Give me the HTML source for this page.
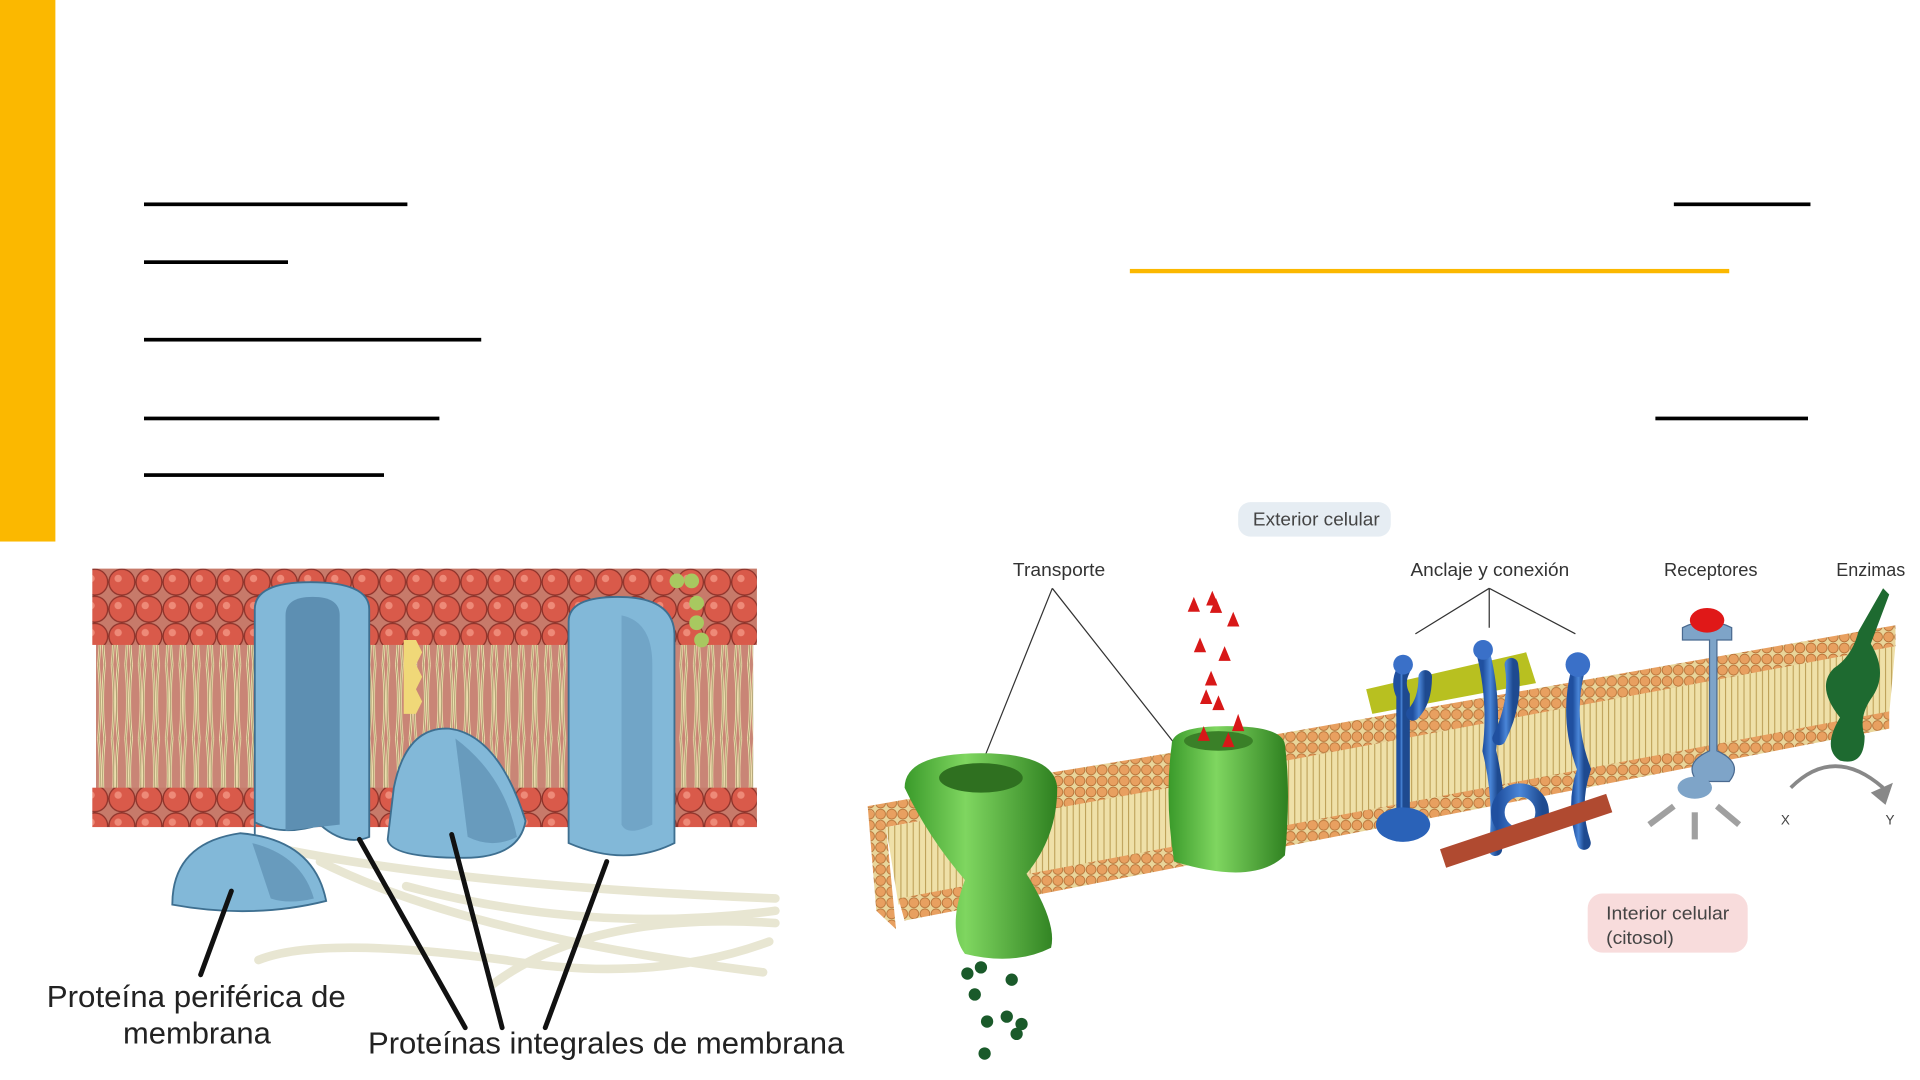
<!DOCTYPE html>
<html><head><meta charset="utf-8"><style>
html,body{margin:0;padding:0;background:#fff;width:1920px;height:1080px;overflow:hidden}
svg{display:block}
text{font-family:"Liberation Sans",sans-serif}
</style></head><body>
<svg width="1920" height="1080" viewBox="0 0 1560 877.5" xmlns="http://www.w3.org/2000/svg">
<defs>
<pattern id="heads" width="22" height="22" patternUnits="userSpaceOnUse">
<rect width="22" height="22" fill="#c77a6a"/>
<circle cx="11" cy="11" r="10.5" fill="#d95a4a" stroke="#8a3028" stroke-width="1"/>
<circle cx="8" cy="8" r="3" fill="#ee8a78"/>
</pattern>
<pattern id="tails" width="11" height="60" patternUnits="userSpaceOnUse">
<rect width="11" height="60" fill="#c98576"/>
<path d="M3 0 q3 30 0 60 M8 0 q-3 30 0 60" stroke="#efe3b0" stroke-width="2" fill="none"/>
<path d="M3 0 q3 30 0 60 M8 0 q-3 30 0 60" stroke="#8a7a50" stroke-width="0.5" fill="none"/>
</pattern>
<pattern id="oheads" width="9" height="9" patternUnits="userSpaceOnUse">
<rect width="9" height="9" fill="#e9d59a"/>
<circle cx="4.5" cy="4.5" r="4" fill="#e8a060" stroke="#b06a30" stroke-width="0.6"/>
</pattern>
<pattern id="otails" width="5" height="20" patternUnits="userSpaceOnUse">
<rect width="5" height="20" fill="#efe0a8"/>
<line x1="2" y1="0" x2="2" y2="20" stroke="#b89a50" stroke-width="0.8"/>
</pattern>
<linearGradient id="g1" x1="0" x2="1"><stop offset="0" stop-color="#3a9a2a"/><stop offset=".4" stop-color="#7fd660"/><stop offset="1" stop-color="#2e8020"/></linearGradient>
<linearGradient id="b1" x1="0" x2="1"><stop offset="0" stop-color="#2050a0"/><stop offset=".5" stop-color="#4a86d8"/><stop offset="1" stop-color="#1e4a90"/></linearGradient>
</defs>

<rect x="0" y="0" width="45" height="440" fill="#fbb800"/>
<g fill="#000">
<rect x="117" y="164.5" width="214" height="3"/>
<rect x="1360" y="164.5" width="111" height="3"/>
<rect x="117" y="211.5" width="117" height="3"/>
<rect x="117" y="274.5" width="274" height="3"/>
<rect x="117" y="338.5" width="240" height="3"/>
<rect x="1345" y="338.5" width="124" height="3"/>
<rect x="117" y="384.5" width="195" height="3"/>
</g>
<rect x="918" y="218.5" width="487" height="3.5" fill="#fbb800"/>

<!-- LEFT DIAGRAM -->
<g>
<path d="M230 690 q150 30 400 40 M260 700 q120 60 360 90 M210 780 q50-20 200 0 q120 20 215 -15 M330 720 q150 40 300 20 M400 800 q80-60 230-50" stroke="#e8e6d2" stroke-width="7" fill="none" stroke-linecap="round"/>
<rect x="78" y="520" width="534" height="125" fill="url(#tails)"/>
<rect x="75" y="462" width="540" height="62" fill="url(#heads)"/>
<rect x="75" y="640" width="540" height="32" fill="url(#heads)"/>
<path d="M328 520 l10 0 l5 10 l-5 10 l5 10 l-5 10 l5 10 l-5 10 h-10z" fill="#f0d878"/>
<circle cx="550" cy="472" r="6" fill="#a8c860"/><circle cx="562" cy="472" r="6" fill="#a8c860"/><circle cx="566" cy="490" r="6" fill="#a8c860"/><circle cx="566" cy="506" r="6" fill="#a8c860"/><circle cx="570" cy="520" r="6" fill="#a8c860"/>
<path d="M207 678 V495 q0-22 45-22 q48 0 48 22 V680 q-20 8 -40-10 q-30 10 -53-2z" fill="#82b8d8" stroke="#3e6f90" stroke-width="1.5"/>
<path d="M232 675 V500 q0-15 22-15 q22 0 22 15 V670z" fill="#5d8fb2"/>
<path d="M462 505 q0-20 40-20 q45 0 46 30 V685 q-40 20 -86 0z" fill="#82b8d8" stroke="#3e6f90" stroke-width="1.5"/>
<path d="M505 500 q25 5 25 40 V670 q-20 10 -25 0z" fill="#6a9cc0" opacity=".7"/>
<path d="M320 640 q10-50 45-48 q40 5 62 75 q-5 30 -50 30 q-60 0 -62-15z" fill="#82b8d8" stroke="#3e6f90" stroke-width="1.5"/>
<path d="M370 600 q40 30 50 80 q-20 10 -40 0z" fill="#5d8fb2" opacity=".7"/>
<path d="M140 735 q0-50 55-58 q60 5 70 55 q-60 15 -125 3z" fill="#82b8d8" stroke="#3e6f90" stroke-width="1.5"/>
<path d="M205 685 q40 10 50 45 q-20 5 -35 0z" fill="#5d8fb2" opacity=".7"/>
<g stroke="#111" stroke-width="4" stroke-linecap="round">
<line x1="188" y1="724" x2="163" y2="792"/>
<line x1="292" y1="682" x2="378" y2="835"/>
<line x1="367" y1="678" x2="408" y2="835"/>
<line x1="493" y1="700" x2="443" y2="835"/>
</g>
<text x="38" y="818" font-size="25" fill="#222" textLength="243" lengthAdjust="spacingAndGlyphs">Proteína periférica de</text>
<text x="100" y="848" font-size="25" fill="#222" textLength="120" lengthAdjust="spacingAndGlyphs">membrana</text>
<text x="299" y="856" font-size="25" fill="#222" textLength="387" lengthAdjust="spacingAndGlyphs">Proteínas integrales de membrana</text>
</g>

<!-- RIGHT DIAGRAM -->
<g>
<rect x="1006" y="408" width="124" height="28" rx="10" fill="#e6edf3"/>
<text x="1018" y="427" font-size="15" fill="#444" textLength="103" lengthAdjust="spacingAndGlyphs">Exterior celular</text>
<rect x="1290" y="726" width="130" height="48" rx="12" fill="#f8dcdc"/>
<text x="1305" y="747" font-size="15" fill="#444" textLength="100" lengthAdjust="spacingAndGlyphs">Interior celular</text>
<text x="1305" y="767" font-size="15" fill="#444" textLength="55" lengthAdjust="spacingAndGlyphs">(citosol)</text>
<text x="823" y="468" font-size="15" fill="#333" textLength="75" lengthAdjust="spacingAndGlyphs">Transporte</text>
<text x="1146" y="468" font-size="15" fill="#333" textLength="129" lengthAdjust="spacingAndGlyphs">Anclaje y conexión</text>
<text x="1352" y="468" font-size="15" fill="#333" textLength="76" lengthAdjust="spacingAndGlyphs">Receptores</text>
<text x="1492" y="468" font-size="15" fill="#333" textLength="56" lengthAdjust="spacingAndGlyphs">Enzimas</text>
<text x="1447" y="670" font-size="11" fill="#444">X</text>
<text x="1532" y="670" font-size="11" fill="#444">Y</text>

<polygon points="705,655 1540,508 1540,525 720,672" fill="url(#oheads)"/>
<polygon points="705,655 720,672 728,755 712,740" fill="url(#oheads)"/>
<polygon points="720,672 1540,525 1535,580 730,735" fill="url(#otails)"/>
<polygon points="730,730 1535,578 1535,592 735,748" fill="url(#oheads)"/>
<polygon points="840,630 950,612 950,640 840,660" fill="url(#oheads)"/>
<polygon points="1045,600 1540,510 1540,525 1045,618" fill="url(#oheads)"/>

<g stroke="#333" stroke-width="1" fill="none">
<path d="M855 478 L800 615 M855 478 L955 605"/>
<path d="M1210 478 L1150 515 M1210 478 V510 M1210 478 L1280 515"/>
</g>

<path d="M735 640 q0-28 62-28 q60 0 62 28 q0 40 -25 70 q25 40 20 60 q-30 15 -70 5 q-15-20 0-60 q-30-35 -49-75z" fill="url(#g1)"/>
<ellipse cx="797" cy="632" rx="34" ry="12" fill="#2f7020"/>
<path d="M952 605 q0-15 45-15 q45 0 47 15 q5 40 0 90 q-25 25 -90 5 q-8-50 -2-95z" fill="url(#g1)"/>
<ellipse cx="990" cy="602" rx="28" ry="8" fill="#3a8028"/>
<g fill="#d81818">
<path d="M970 485 l5 12 h-10z M985 480 l5 12 h-10z M988 486 l5 12 h-10z M1002 497 l5 12 h-10z M975 518 l5 12 h-10z M995 525 l5 12 h-10z M984 545 l5 12 h-10z M980 560 l5 12 h-10z M990 565 l5 12 h-10z M978 590 l5 12 h-10z M1006 580 l5 14 h-10z M998 595 l5 12 h-10z"/>
</g>
<g fill="#1a5a2a">
<circle cx="786" cy="791" r="5"/><circle cx="797" cy="786" r="5"/><circle cx="822" cy="796" r="5"/><circle cx="792" cy="808" r="5"/><circle cx="802" cy="830" r="5"/><circle cx="818" cy="826" r="5"/><circle cx="830" cy="832" r="5"/><circle cx="826" cy="840" r="5"/><circle cx="800" cy="856" r="5"/>
</g>

<path d="M1110 560 L1240 530 L1248 555 L1115 580z" fill="#b8c020"/>
<g fill="none" stroke="url(#b1)" stroke-width="11" stroke-linecap="round">
<path d="M1140 545 q-5 10 0 20 V665"/>
<path d="M1158 550 q0 20 -10 30"/>
<path d="M1205 530 q10 40 5 80 q10 40 5 80"/>
<path d="M1228 540 q5 30 -10 60"/>
<path d="M1282 545 q-10 40 5 80 q-10 30 0 60"/>
<circle cx="1235" cy="660" r="18"/>
</g>
<path d="M1170 690 L1305 645 L1310 660 L1175 705z" fill="#b04a30"/>
<ellipse cx="1140" cy="670" rx="22" ry="14" fill="#2a62b8"/>
<circle cx="1140" cy="540" r="8" fill="#3a70c8"/><circle cx="1205" cy="528" r="8" fill="#3a70c8"/><circle cx="1282" cy="540" r="10" fill="#3a70c8"/>
<path d="M1367 510 q20-10 40 0 v10 h-12 v90 q22 10 10 25 h-26 q-12-15 10-25 v-90 h-22z" fill="#7ea4c8" stroke="#4a6a90" stroke-width="1"/>
<ellipse cx="1387" cy="504" rx="14" ry="10" fill="#e01818"/>
<ellipse cx="1377" cy="640" rx="14" ry="9" fill="#7ea4c8"/>
<g stroke="#a0a0a0" stroke-width="5" fill="#a0a0a0">
<path d="M1360 655 l-20 15"/><path d="M1377 660 v22"/><path d="M1395 655 l18 15"/>
</g>
<path d="M1530 478 l-20 35 q-5 20 -20 30 q-15 15 5 40 q-15 25 0 35 q20 5 20-20 q-5-15 5-30 q15-20 0-45 l15-40z" fill="#1e6a30"/>
<path d="M1455 640 q35-35 75 0" stroke="#888" stroke-width="3" fill="none"/>
<path d="M1538 636 l-6 18 l-12-10z" fill="#888"/>
</g>
</svg>
</body></html>
